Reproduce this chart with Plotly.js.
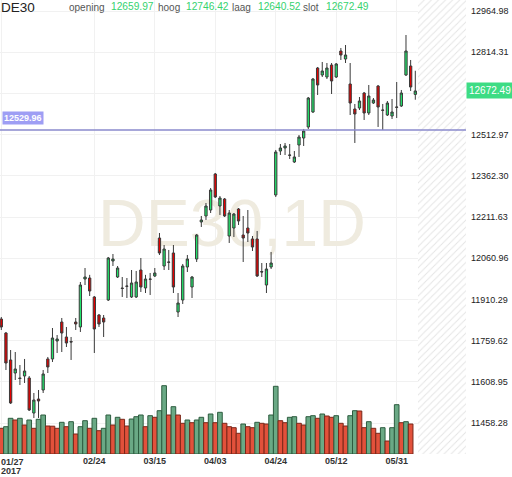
<!DOCTYPE html>
<html>
<head>
<meta charset="utf-8">
<script src="https://cdn.plot.ly/plotly-3.0.1.min.js"></script>
<style>
  html, body { margin: 0; padding: 0; background: #fff; }
  #chart { width: 512px; height: 477px; }
</style>
</head>
<body>
<div id="chart"></div>
<script>
// ---- data ----
const symbol = 'DE30';
const watermark = 'DE30,1D';
const dates = [
  '01/27','01/30','01/31','02/01','02/02','02/03','02/06','02/07','02/08','02/09','02/10',
  '02/13','02/14','02/15','02/16','02/17','02/20','02/21','02/22','02/23','02/24',
  '02/27','02/28','03/01','03/02','03/03','03/06','03/07','03/08','03/09','03/10',
  '03/13','03/14','03/15','03/16','03/17','03/20','03/21','03/22','03/23','03/24',
  '03/27','03/28','03/29','03/30','03/31','04/03','04/04','04/05','04/06','04/07',
  '04/10','04/11','04/12','04/13','04/18','04/19','04/20','04/21','04/24','04/25',
  '04/26','04/27','04/28','05/02','05/03','05/04','05/05','05/08','05/09','05/10',
  '05/11','05/12','05/15','05/16','05/17','05/18','05/19','05/22','05/23','05/24',
  '05/25','05/26','05/29','05/30','05/31','06/01','06/02','06/06','06/07'
];
const open = [
  11838.6,11787.4,11688.7,11641.1,11622.9,11630.2,11622.9,11494.8,11546.0,11579.0,
  11692.4,11692.4,11758.2,11827.6,11772.8,11756.3,11827.6,11809.4,11984.9,11988.5,
  11919.1,11853.2,11842.3,11908.1,12050.7,11992.2,11952.0,11959.3,11919.1,11919.1,
  12017.8,11952.0,11984.9,11995.9,12134.8,12032.4,12047.1,12080.0,11864.2,11908.1,
  12028.8,11955.6,12058.0,12193.3,12215.3,12237.2,12368.9,12251.9,12277.5,12142.1,
  12171.4,12240.9,12145.8,12171.4,12131.2,12131.2,12012.3,11962.9,12028.8,12292.1,
  12453.0,12464.0,12438.4,12412.8,12474.9,12500.5,12540.8,12595.6,12756.5,12730.9,
  12723.6,12767.5,12723.6,12818.7,12789.4,12698.0,12606.6,12610.2,12665.1,12592.0,
  12628.5,12690.7,12602.9,12584.6,12581.0,12613.9,12617.6,12730.9,12763.8,12659.97
];
const high = [
  11845.9,11791.1,11725.2,11717.9,11670.4,11692.4,11630.2,11568.0,11579.0,11652.1,
  11699.7,11805.7,11780.1,11842.3,11809.4,11772.8,11842.3,11973.9,12025.1,12000.0,
  11922.7,11856.9,11853.2,12065.4,12076.3,12032.4,11992.2,11988.5,12017.8,12014.2,
  12061.7,12000.0,12006.9,12025.1,12153.1,12109.2,12091.0,12109.2,11933.7,12039.8,
  12072.7,11995.9,12149.5,12215.3,12262.8,12317.7,12372.6,12288.4,12281.1,12237.2,
  12226.2,12244.5,12215.3,12237.2,12142.1,12160.5,12043.4,12043.4,12083.6,12456.7,
  12478.6,12482.3,12478.6,12453.0,12511.5,12533.5,12650.5,12720.0,12760.2,12778.5,
  12774.8,12774.8,12774.8,12829.7,12840.6,12774.8,12624.9,12650.5,12668.8,12694.4,
  12646.8,12694.4,12624.9,12635.8,12643.2,12705.3,12676.1,12877.2,12785.8,12746.42
];
const low = [
  11798.4,11652.1,11527.8,11615.5,11597.3,11604.6,11502.2,11476.6,11476.6,11568.0,
  11641.1,11681.4,11714.3,11717.9,11736.2,11688.7,11798.4,11791.1,11962.9,11922.7,
  11714.3,11809.4,11772.8,11904.4,12032.4,11988.5,11919.1,11915.4,11915.4,11915.4,
  11937.4,11933.7,11926.4,11992.2,12072.7,12017.8,12017.8,11933.7,11845.9,11893.5,
  12010.5,11915.4,12047.1,12175.1,12200.7,12226.2,12281.1,12219.0,12211.6,12116.6,
  12138.5,12182.4,12047.1,12120.2,12087.3,11992.2,11992.2,11933.7,12021.5,12284.8,
  12438.4,12438.4,12423.8,12409.1,12431.1,12471.3,12533.5,12592.0,12657.8,12723.6,
  12716.3,12661.4,12720.0,12785.8,12774.8,12584.6,12482.3,12602.9,12566.4,12584.6,
  12624.9,12540.8,12529.8,12581.0,12570.0,12573.7,12613.9,12727.3,12672.4,12640.52
];
const close = [
  11809.4,11677.7,11531.5,11655.8,11621.0,11648.4,11505.8,11542.4,11538.7,11637.5,
  11663.1,11769.1,11765.5,11787.4,11750.8,11754.5,11820.3,11962.9,11992.2,11941.0,
  11802.0,11820.3,11827.6,12061.7,12058.0,12025.1,11950.2,11958.2,11970.3,11974.0,
  11955.6,11984.9,11983.8,12006.9,12080.0,12094.6,12046.0,11955.6,11897.1,12032.4,
  12058.0,11992.2,12145.8,12200.7,12251.9,12310.4,12284.8,12281.1,12215.3,12226.2,
  12222.6,12197.0,12134.8,12153.1,12101.9,11995.9,12010.5,12021.5,12043.4,12449.3,
  12464.0,12471.3,12437.3,12431.1,12504.2,12526.1,12646.8,12716.3,12694.4,12745.6,
  12756.5,12709.0,12771.2,12804.1,12804.1,12628.5,12588.3,12635.8,12592.0,12654.1,
  12639.5,12613.9,12601.8,12628.5,12595.6,12612.8,12665.1,12818.7,12687.0,12672.49
];
const volume = [
  25700,27300,35700,34000,35700,29000,34000,25700,34700,39000,
  28000,27800,25700,31700,27300,32300,20000,27300,33300,25700,
  35700,23300,25700,39000,29000,36700,34700,28000,35000,37300,
  39000,27300,38300,36700,43300,68300,39000,47300,39000,30700,
  34000,31300,34000,36700,31300,40000,31300,41700,30700,27300,
  26300,20700,30000,27300,26300,31700,30700,30000,39000,67700,
  33300,31300,36700,37300,30700,29000,37300,38300,35700,40000,
  38000,36700,38300,30700,28000,38300,43300,43000,26300,32300,
  25700,20700,26300,13000,26300,49300,31300,32300,30000,null
];
const alertLevel = 12529.96;
const headerLabels = ['opening', 'hoog', 'laag', 'slot'];
const headerValues = ['12659.97', '12746.42', '12640.52', '12672.49'];
const lastPrice = 12672.49;
const priceTicks = [12964.98,12814.31,12663.64,12512.97,12362.30,12211.63,12060.96,11910.29,11759.62,11608.95,11458.28];
const priceTickText = ['12964.98','12814.31','','12512.97','12362.30','12211.63','12060.96','11910.29','11759.62','11608.95','11458.28'];
const dateTicks = ['01/27','02/24','03/15','04/03','04/24','05/12','05/31'];
const dateTickText = ['','02/24','03/15','04/03','04/24','05/12','05/31'];
const firstDate = '01/27';
const firstYear = '2017';

// ---- styling / layout ----
const W = 512, H = 477;
const M = {l: 0, r: 46, t: 0, b: 23};
const plotW = W - M.l - M.r, plotH = H - M.t - M.b;
const xRange = [-0.28, 99.9];
const yRange = [11344.9, 13005.2];
const volRange = [0, 454000];
const FONT = 'Arial, "Liberation Sans", Helvetica, sans-serif';
const GREEN_TXT = '#35d26e';

// volume colours: up vs previous volume -> green, else red
const volFill = [], volLine = [];
for (let i = 0; i < volume.length; i++) {
  const up = i > 0 && volume[i] != null && volume[i - 1] != null && volume[i] > volume[i - 1];
  volFill.push(up ? '#6aa985' : '#e2513b');
  volLine.push(up ? '#2d5c3f' : '#7a2719');
}

const hatchStart = dates.length - 0.4;
const traces = [
  { // future (hatched) zone
    type: 'bar', xaxis: 'x', yaxis: 'y',
    x: [(hatchStart + xRange[1]) / 2], y: [1], width: [xRange[1] - hatchStart],
    marker: {color: '#ffffff', line: {width: 0},
      pattern: {shape: '/', fgcolor: '#e4e4e4', bgcolor: '#ffffff', size: 5, solidity: 0.18}},
    hoverinfo: 'skip', showlegend: false
  },
  { // watermark
    type: 'scatter', mode: 'text', xaxis: 'x', yaxis: 'y',
    x: [49.6], y: [0.494], text: [watermark],
    textfont: {family: FONT, size: 66, color: '#efebdf'},
    textposition: 'middle center', cliponaxis: false,
    hoverinfo: 'skip', showlegend: false
  },
  { // volume
    type: 'bar', xaxis: 'x2', yaxis: 'y3',
    x: dates, y: volume,
    marker: {color: volFill, line: {color: volLine, width: 1}},
    hoverinfo: 'skip', showlegend: false
  },
  { // price
    type: 'candlestick', xaxis: 'x2', yaxis: 'y2',
    x: dates, open: open, high: high, low: low, close: close,
    increasing: {fillcolor: '#22e36b', line: {color: '#3a3a3a', width: 1}},
    decreasing: {fillcolor: '#e50000', line: {color: '#3a3a3a', width: 1}},
    hoverinfo: 'skip', showlegend: false
  }
];

const hdrY = 1;
const tickFont = {family: FONT, size: 9, color: '#333', weight: 'bold'};
const annotations = [
  {xref: 'paper', yref: 'paper', x: -0.002, y: hdrY, xanchor: 'left', yanchor: 'top', yshift: 2,
   text: symbol, showarrow: false, font: {family: FONT, size: 13.5, color: '#222'}},
  {xref: 'paper', yref: 'paper', x: 0, y: 0, xanchor: 'left', yanchor: 'top', yshift: -2, xshift: 0,
   text: firstDate, showarrow: false, borderpad: 0, font: tickFont},
  {xref: 'paper', yref: 'paper', x: 0, y: 0, xanchor: 'left', yanchor: 'bottom', yshift: -23, xshift: 0,
   text: firstYear, showarrow: false, borderpad: 0, font: tickFont},
  {xref: 'paper', yref: 'y2', x: 0, y: alertLevel, xanchor: 'left', yanchor: 'middle', xshift: 2, yshift: 12,
   text: alertLevel.toFixed(2), showarrow: false, bgcolor: '#9e9ef4', borderpad: 1,
   font: {family: FONT, size: 9, color: '#ffffff', weight: 'bold'}},
  {xref: 'paper', yref: 'y2', x: 1, y: lastPrice, xanchor: 'left', yanchor: 'middle', xshift: 0,
   text: lastPrice.toFixed(2), showarrow: false, bgcolor: '#3ddc84', borderpad: 2,
   font: {family: FONT, size: 10, color: '#ffffff'}}
];
const labelX = [68, 157, 231, 302];
const valueX = [110, 185, 257, 325];
headerLabels.forEach((t, i) => annotations.push({
  xref: 'paper', yref: 'paper', x: (labelX[i] - 1) / plotW, y: hdrY, xanchor: 'left', yanchor: 'top', yshift: 0,
  text: t, showarrow: false, font: {family: FONT, size: 10, color: '#555'}
}));
headerValues.forEach((t, i) => annotations.push({
  xref: 'paper', yref: 'paper', x: (valueX[i] - 1) / plotW, y: hdrY, xanchor: 'left', yanchor: 'top', yshift: 1,
  text: t, showarrow: false, font: {family: FONT, size: 10.2, color: GREEN_TXT}
}));

const layout = {
  width: W, height: H,
  margin: M,
  paper_bgcolor: '#ffffff', plot_bgcolor: '#ffffff',
  showlegend: false, hovermode: false,
  bargap: 0,
  font: {family: FONT},
  xaxis: {range: xRange, visible: false, fixedrange: true},
  yaxis: {range: [0, 1], visible: false, fixedrange: true},
  xaxis2: {
    type: 'category', overlaying: 'x', range: xRange,
    tickmode: 'array', tickvals: dateTicks, ticktext: dateTickText,
    showgrid: true, gridcolor: '#f1f1f1', gridwidth: 1,
    ticks: '', showline: false, zeroline: false,
    tickfont: tickFont,
    rangeslider: {visible: false}, fixedrange: true
  },
  yaxis2: {
    overlaying: 'y', side: 'right', range: yRange,
    tickmode: 'array', tickvals: priceTicks, ticktext: priceTickText,
    showgrid: true, gridcolor: '#f1f1f1', gridwidth: 1,
    ticks: '', showline: false, zeroline: false, ticklabelstandoff: 4,
    tickfont: {family: FONT, size: 9, color: '#222'}, fixedrange: true
  },
  yaxis3: {overlaying: 'y', range: volRange, visible: false, fixedrange: true},
  shapes: [
    {type: 'line', xref: 'paper', yref: 'y2', x0: 0, x1: 1, y0: alertLevel, y1: alertLevel,
     line: {color: '#8a8acc', width: 1.6}, layer: 'above'}
  ],
  annotations: annotations
};

Plotly.newPlot('chart', traces, layout, {staticPlot: true, displayModeBar: false});
</script>
</body>
</html>
